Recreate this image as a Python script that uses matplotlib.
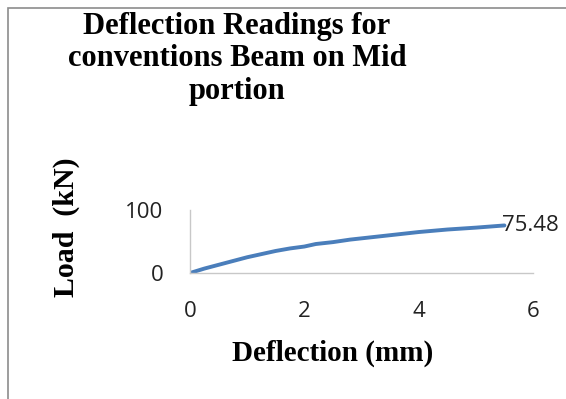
import matplotlib.pyplot as plt
from matplotlib.patches import Rectangle

# load vs deflection readings, mid portion of the conventional beam
deflection = [0, 0.25, 0.5, 0.75, 1.0, 1.25, 1.5, 1.75, 2.0, 2.2, 2.5, 2.8,
              3.2, 3.6, 4.0, 4.5, 5.0, 5.5]
load = [0, 7, 13, 19, 25, 30, 35, 39, 42, 46, 49, 53,
        57, 61, 65, 69, 72, 75.48]
x_ticks = [0, 2, 4, 6]
y_ticks = [0, 100]

fig = plt.figure(figsize=(5.66, 3.99), dpi=100)

# chart frame (runs off the right/bottom edge)
fig.patches.append(Rectangle((8 / 566, -0.1), 1.2, 1 - 8 / 399 + 0.1,
                             transform=fig.transFigure, fill=False,
                             edgecolor='#8c8c8c', linewidth=1.2))

ax = fig.add_axes([190 / 566, 1 - 273 / 399, (533 - 190) / 566, (273 - 210) / 399])
ax.plot(deflection, load, color='#4a7ebb', linewidth=2.8, solid_capstyle='round')
ax.annotate('%.2f' % load[-1], (deflection[-1], load[-1]), xytext=(-2, 0),
            textcoords='offset points', ha='left', va='center',
            fontsize=16, family='Open Sans', color='#222222')

ax.set_xlim(0, 6)
ax.set_ylim(0, 100)
ax.set_xticks(x_ticks)
ax.set_yticks(y_ticks)
ax.tick_params(length=0, labelsize=16, colors='#222222')
ax.tick_params(axis='x', pad=20)
ax.tick_params(axis='y', pad=19)
for lab in ax.get_xticklabels() + ax.get_yticklabels():
    lab.set_family('Open Sans')
for s in ['top', 'right']:
    ax.spines[s].set_visible(False)
for s in ['left', 'bottom']:
    ax.spines[s].set_color('#c8c8c8')
    ax.spines[s].set_linewidth(1)

fig.text(237 / 566, 1 - 59 / 399,
         'Deflection Readings for\nconventions Beam on Mid\nportion',
         ha='center', va='center', family='Liberation Serif', weight='bold',
         fontsize=22, linespacing=1.16)
fig.text(66 / 566, 1 - 227 / 399, 'Load  (kN)', rotation=90, ha='center',
         va='center', family='Liberation Serif', weight='bold', fontsize=21.5)
fig.text(333 / 566, 1 - 353 / 399, 'Deflection (mm)', ha='center', va='center',
         family='Liberation Serif', weight='bold', fontsize=21)

fig.savefig('out.png', dpi=100)
